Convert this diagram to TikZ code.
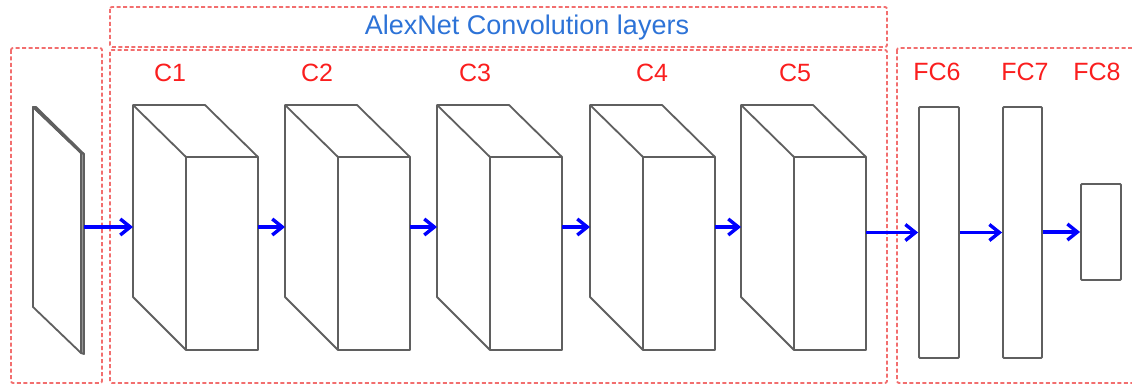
\documentclass[tikz,border=0pt]{standalone}
\usepackage{fontspec}
\setmainfont{Liberation Sans}
\usetikzlibrary{arrows.meta}
\definecolor{framered}{RGB}{242,110,110}
\definecolor{labelred}{RGB}{250,30,30}
\definecolor{titleblue}{RGB}{45,115,215}
\definecolor{edgegray}{RGB}{95,95,95}
\definecolor{sidegray}{RGB}{150,150,150}
\begin{document}
\begin{tikzpicture}[x=1pt,y=-1pt,
  frame/.style={draw=framered, line width=1.8pt, dash pattern=on 4pt off 2.5pt, rounded corners=2pt},
  layerlabel/.style={text=labelred, font=\fontsize{25}{25}\selectfont, anchor=base, inner sep=0pt},
  titletext/.style={text=titleblue, font=\fontsize{27}{27}\selectfont, anchor=base, inner sep=0pt},
  edges/.style={draw=edgegray, line width=1.8pt, line join=round},
  fcbox/.style={draw=edgegray, line width=1.8pt, fill=white, rectangle, inner sep=0pt, rounded corners=1pt},
  flow/.style={draw=blue, line width=3.6pt, -{Straight Barb[length=10pt,width=16pt,line width=3.4pt]}}]
\useasboundingbox (0,0) rectangle (1132,387);

% dashed group frames
\draw[frame] (11,48) rectangle (102,383);
\draw[frame] (110,7) rectangle (887,47);
\draw[frame] (110,50) rectangle (887,383);
\draw[frame] (897,48) rectangle (1150,383);

\node[titletext] (title) at (527,35) {AlexNet Convolution layers};

% input image slab
\draw[edges, fill=white] (33,107) -- (81,153) -- (81,353) -- (33,307) -- cycle;
\draw[edges, fill=sidegray] (33,107) -- (36,107) -- (84,154) -- (81,153) -- cycle;
\draw[edges, fill=sidegray] (81,153) -- (84,154) -- (84,354) -- (81,353) -- cycle;
\coordinate (in-out) at (84,227);

% convolution blocks
\foreach \name/\x in {c1/133, c2/285, c3/437, c4/590, c5/741} {
  \draw[edges, fill=white] (\x,105) -- (\x+72,105) -- (\x+125,157) -- (\x+125,350)
        -- (\x+53,350) -- (\x,297) -- cycle;
  \draw[edges] (\x,105) -- (\x+53,157) -- (\x+125,157);
  \draw[edges] (\x+53,157) -- (\x+53,350);
  \coordinate (\name-in) at (\x,227);
  \coordinate (\name-out) at (\x+125,227);
}

% fully connected layers
\node[fcbox, minimum width=40pt, minimum height=251pt] (fc6) at (939,232.5) {};
\node[fcbox, minimum width=39pt, minimum height=251pt] (fc7) at (1022.5,232.5) {};
\node[fcbox, minimum width=40pt, minimum height=96pt] (fc8) at (1101,232) {};

% layer names
\node[layerlabel] (l1) at (170,82) {C1};
\node[layerlabel] (l2) at (317,82) {C2};
\node[layerlabel] (l3) at (475,82) {C3};
\node[layerlabel] (l4) at (652,82) {C4};
\node[layerlabel] (l5) at (795,82) {C5};
\node[layerlabel] (l6) at (937,81) {FC6};
\node[layerlabel] (l7) at (1025,81) {FC7};
\node[layerlabel] (l8) at (1097,81) {FC8};

% data flow
\draw[flow] (in-out) -- (c1-in);
\draw[flow] (c1-out) -- (c2-in);
\draw[flow] (c2-out) -- (c3-in);
\draw[flow] (c3-out) -- (c4-in);
\draw[flow] (c4-out) -- (c5-in);
\draw[flow] (c5-out |- fc6.west) -- (fc6.west);
\draw[flow] (fc6.east) -- (fc7.west);
\draw[flow] (fc7.east |- fc8.west) -- (fc8.west);
\end{tikzpicture}
\end{document}
